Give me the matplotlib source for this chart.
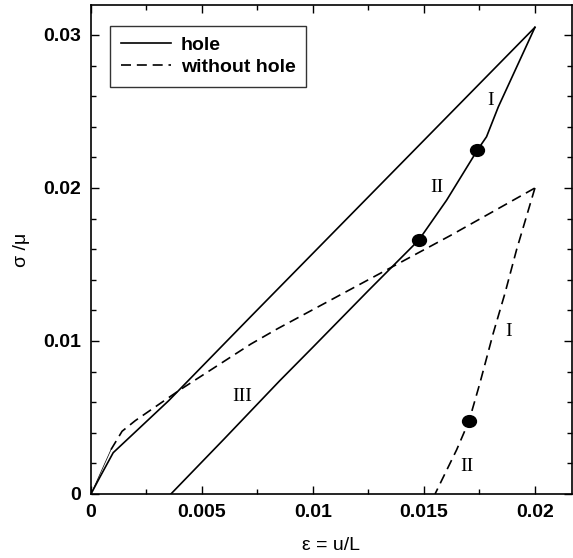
import numpy as np
import matplotlib
matplotlib.use("Agg")
from matplotlib import pyplot as plt
from matplotlib.path import Path
from matplotlib.transforms import Affine2D

# hole: loading branch then unloading (I, II, III)
eps_hole_load = [0, 0.0004, 0.001, 0.0035, 0.0072, 0.0200]
sig_hole_load = [0, 0.0011, 0.0027, 0.0061, 0.0116, 0.0305]
eps_hole_unload = [0.0200, 0.01835, 0.01782, 0.01741, 0.01602, 0.01477,
                   0.0125, 0.0100, 0.0085, 0.0060, 0.0036]
sig_hole_unload = [0.0305, 0.0253, 0.02335, 0.02248, 0.0192, 0.0166,
                   0.0133, 0.0096, 0.0074, 0.0036, 0.0]
hole_dots_eps = [0.01741, 0.01477]
hole_dots_sig = [0.02248, 0.0166]

# without hole
eps_nh_init = [0, 0.0009]
sig_nh_init = [0, 0.0029]
eps_nh_load = [0.0009, 0.0014, 0.0020, 0.0030, 0.0040, 0.0072, 0.0084, 0.0162, 0.0200]
sig_nh_load = [0.0029, 0.0041, 0.0048, 0.0058, 0.0068, 0.0098, 0.0108, 0.0169, 0.0200]
eps_nh_unload = [0.0200, 0.01917, 0.01865, 0.01812, 0.01752, 0.01703, 0.01647, 0.0155]
sig_nh_unload = [0.0200, 0.01595, 0.01312, 0.0105, 0.00724, 0.00477, 0.00288, 0.0]
nh_dot_eps = [0.01703]
nh_dot_sig = [0.00477]

labels = ["I", "II", "III", "I", "II"]
label_x = [0.0180, 0.0156, 0.0068, 0.0188, 0.01695]
label_y = [0.02575, 0.0200, 0.0064, 0.0106, 0.0018]

plt.rcParams['font.family'] = ['Liberation Sans', 'DejaVu Sans']

fig = plt.figure(figsize=(5.73, 5.58), dpi=100)
ax = fig.add_axes([91/573, 1-494/558, (572-91)/573, (494-5)/558])

lw = 1.2
ax.plot(eps_hole_load, sig_hole_load, color='black', lw=lw, label='hole')
ax.plot(eps_hole_unload, sig_hole_unload, color='black', lw=lw)
ax.plot(eps_nh_init, sig_nh_init, color='black', lw=0.5)
ax.plot(eps_nh_load, sig_nh_load, color='black', lw=lw, linestyle=(0, (6, 3.5)),
        label='without hole')
ax.plot(eps_nh_unload, sig_nh_unload, color='black', lw=lw, linestyle=(0, (6, 3.5)))

ell = Path(Affine2D().scale(1.18, 1.0).transform(Path.unit_circle().vertices),
           Path.unit_circle().codes)
ax.plot(hole_dots_eps, hole_dots_sig, linestyle='none', marker=ell,
        markersize=10, color='black')
ax.plot(nh_dot_eps, nh_dot_sig, linestyle='none', marker=ell,
        markersize=10, color='black')

for t, x, y in zip(labels, label_x, label_y):
    ax.text(x, y, t, family='Liberation Serif', fontsize=14,
            ha='center', va='center')

ax.set_xlim(0, 0.02167)
ax.set_ylim(0, 0.03196)
ax.set_xticks([0, 0.005, 0.01, 0.015, 0.02])
ax.set_xticklabels(['0', '0.005', '0.01', '0.015', '0.02'])
ax.set_xticks(np.arange(0, 0.0216, 0.0025), minor=True)
ax.set_yticks([0, 0.01, 0.02, 0.03])
ax.set_yticklabels(['0', '0.01', '0.02', '0.03'])
ax.set_yticks(np.arange(0, 0.0319, 0.002), minor=True)
ax.tick_params(which='both', direction='in', top=True, right=True, width=1.0)
ax.tick_params(which='major', length=6, pad=7, labelsize=14)
ax.tick_params(which='minor', length=3.3)
for lab in ax.get_xticklabels() + ax.get_yticklabels():
    lab.set_fontweight('bold')
for s in ax.spines.values():
    s.set_linewidth(1.2)

ax.set_xlabel('ε = u/L', fontsize=14, labelpad=12)
ax.set_ylabel('σ /μ', fontsize=14, labelpad=10)

leg = ax.legend(loc='upper left', bbox_to_anchor=(19/481, 1-21/489),
                borderaxespad=0, frameon=True, fancybox=False, edgecolor='black',
                handlelength=2.6, handletextpad=0.5, borderpad=0.55,
                labelspacing=0.2, prop={'weight': 'bold', 'size': 14})
leg.get_frame().set_linewidth(1.0)

fig.savefig('out.png', dpi=100)
